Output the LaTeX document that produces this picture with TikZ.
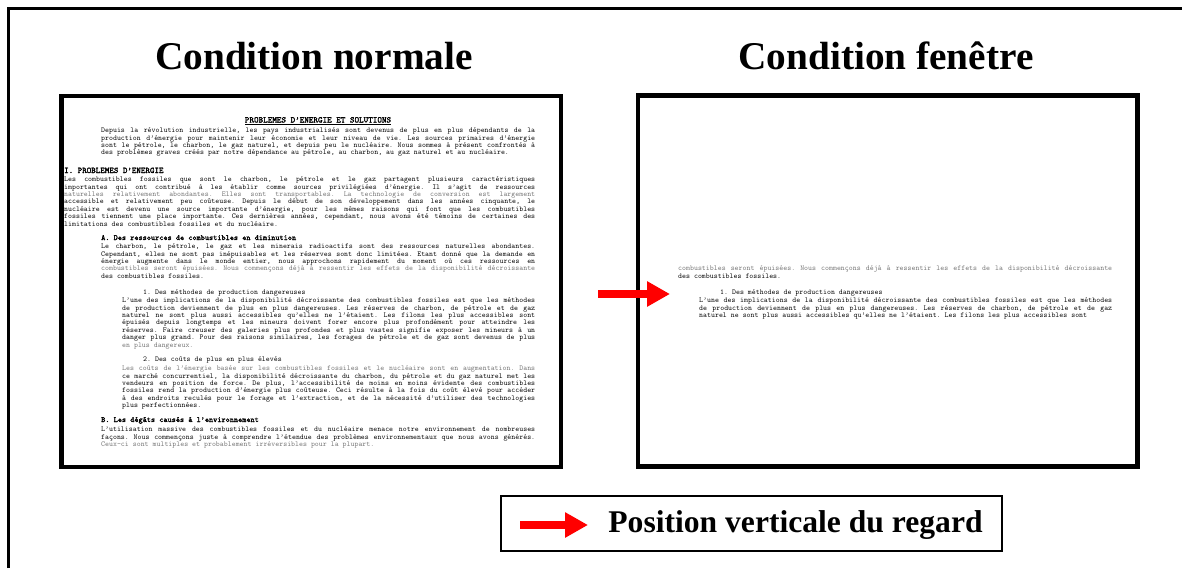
\documentclass[tikz,border=0pt]{standalone}
\usepackage{fontspec}
\setmainfont{Liberation Serif}
\newfontfamily\docfont{lmmono10-regular.otf}
\newfontfamily\docgras{lmmono10-regular.otf}[FakeBold=2]
\usetikzlibrary{arrows.meta}

\newcommand\doctaille{\docfont\fontsize{7.54}{7.4}\selectfont\frenchspacing
  \spaceskip=3.96pt plus 8pt minus 1.3pt\relax
  \tolerance=10000\pretolerance=-1\hyphenpenalty=10000\hfuzz=30pt\parindent=0pt}
\newcommand\lignepale[1]{\textcolor{black!55}{#1}}

\tikzset{
  cadre/.style={draw, line width=4.5pt, minimum width=499.5pt, minimum height=371pt, inner sep=0pt},
  titre/.style={font=\fontsize{39.3}{44}\selectfont\bfseries, anchor=base, inner sep=0pt},
  para/.style={anchor=north west, inner sep=0pt, align=justify, font=\doctaille, text width=#1},
  entete/.style={anchor=base, inner sep=0pt, font=\docgras\fontsize{8.7}{9}\selectfont},
  rubrique/.style={anchor=base west, inner sep=0pt, font=\docgras\fontsize{#1}{9}\selectfont},
  sousrubrique/.style={anchor=base west, inner sep=0pt, font=\doctaille},
  regard/.style={draw=red, line width=8pt, -{Triangle[length=23pt,width=24pt]}},
}

\begin{document}
\begin{tikzpicture}[x=1pt, y=-1pt]
\useasboundingbox (0,0) rectangle (1182,568);
\draw[line width=2.5pt] (8.5,568) -- (8.5,8.5) -- (1182,8.5);

\node[titre] (titreNormale) at (314,69) {Condition normale};
\node[titre] (titreFenetre) at (886,69) {Condition fenêtre};

\node[cadre] (normale) at (311.25,281.5) {};
\node[cadre] (fenetre) at (887.5,281) {};

% condition normale
\node[entete] (entete) at (318,122.5) {\underline{PROBLEMES D’ENERGIE ET SOLUTIONS}};
\node[para=434pt] (intro) at (101,127.8) {Depuis la révolution industrielle, les pays industrialisés sont devenus de plus en plus dépendants de la\linebreak
production d’énergie pour maintenir leur économie et leur niveau de vie. Les sources primaires d’énergie\linebreak
sont le pétrole, le charbon, le gaz naturel, et depuis peu le nucléaire. Nous sommes à présent confrontés à\linebreak
des problèmes graves créés par notre dépendance au pétrole, au charbon, au gaz naturel et au nucléaire.};
\node[rubrique=8.6] (rubI) at (64,173) {I. PROBLEMES D’ENERGIE};
\node[para=471pt] (parI) at (64,176.8) {Les combustibles fossiles que sont le charbon, le pétrole et le gaz partagent plusieurs caractéristiques\linebreak
importantes qui ont contribué à les établir comme sources privilégiées d’énergie. Il s’agit de ressources\linebreak
\lignepale{naturelles relativement abondantes. Elles sont transportables. La technologie de conversion est largement}\linebreak
accessible et relativement peu coûteuse. Depuis le début de son développement dans les années cinquante, le\linebreak
nucléaire est devenu une source importante d’énergie, pour les mêmes raisons qui font que les combustibles\linebreak
fossiles tiennent une place importante. Ces dernières années, cependant, nous avons été témoins de certaines des\linebreak
limitations des combustibles fossiles et du nucléaire.};
\node[rubrique=7.9] (rubA) at (101,240) {A. Des ressources de combustibles en diminution};
\node[para=434pt] (parA) at (101,243.8) {Le charbon, le pétrole, le gaz et les minerais radioactifs sont des ressources naturelles abondantes.\linebreak
Cependant, elles ne sont pas inépuisables et les réserves sont donc limitées. Etant donné que la demande en\linebreak
énergie augmente dans le monde entier, nous approchons rapidement du moment où ces ressources en\linebreak
\lignepale{combustibles seront épuisées. Nous commençons déjà à ressentir les effets de la disponibilité décroissante}\linebreak
des combustibles fossiles.};
\node[sousrubrique] (rubA1) at (143,294) {1. Des méthodes de production dangereuses};
\node[para=413pt] (parA1) at (122,297.8) {L’une des implications de la disponibilité décroissante des combustibles fossiles est que les méthodes\linebreak
de production deviennent de plus en plus dangereuses. Les réserves de charbon, de pétrole et de gaz\linebreak
naturel ne sont plus aussi accessibles qu’elles ne l’étaient. Les filons les plus accessibles sont\linebreak
épuisés depuis longtemps et les mineurs doivent forer encore plus profondément pour atteindre les\linebreak
réserves. Faire creuser des galeries plus profondes et plus vastes signifie exposer les mineurs à un\linebreak
danger plus grand. Pour des raisons similaires, les forages de pétrole et de gaz sont devenus de plus\linebreak
\lignepale{en plus dangereux.}};
\node[sousrubrique] (rubA2) at (143,361) {2. Des coûts de plus en plus élevés};
\node[para=413pt] (parA2) at (122,365.8) {\lignepale{Les coûts de l’énergie basée sur les combustibles fossiles et le nucléaire sont en augmentation. Dans}\linebreak
ce marché concurrentiel, la disponibilité décroissante du charbon, du pétrole et du gaz naturel met les\linebreak
vendeurs en position de force. De plus, l’accessibilité de moins en moins évidente des combustibles\linebreak
fossiles rend la production d’énergie plus coûteuse. Ceci résulte à la fois du coût élevé pour accéder\linebreak
à des endroits reculés pour le forage et l’extraction, et de la nécessité d’utiliser des technologies\linebreak
plus perfectionnées.};
\node[rubrique=7.9] (rubB) at (101,422) {B. Les dégâts causés à l’environnement};
\node[para=434pt] (parB) at (101,426.8) {L’utilisation massive des combustibles fossiles et du nucléaire menace notre environnement de nombreuses\linebreak
façons. Nous commençons juste à comprendre l’étendue des problèmes environnementaux que nous avons générés.\linebreak
\lignepale{Ceux-ci sont multiples et probablement irréversibles pour la plupart.}};

% condition fenetre
\node[para=434pt] (fenA) at (678,266) {\lignepale{combustibles seront épuisées. Nous commençons déjà à ressentir les effets de la disponibilité décroissante}\linebreak
des combustibles fossiles.};
\node[sousrubrique] (fenA1) at (720,294) {1. Des méthodes de production dangereuses};
\node[para=413pt] (fenParA1) at (699,297.8) {L’une des implications de la disponibilité décroissante des combustibles fossiles est que les méthodes\linebreak
de production deviennent de plus en plus dangereuses. Les réserves de charbon, de pétrole et de gaz\linebreak
naturel ne sont plus aussi accessibles qu’elles ne l’étaient. Les filons les plus accessibles sont};

\coordinate (regardDebut) at (598,294);
\coordinate (regardFin) at (670,294);
\draw[regard] (regardDebut) -- (regardFin);

% legende
\node[draw, line width=2pt, minimum width=501pt, minimum height=55pt, inner sep=0pt] (legende) at (751.5,523.5) {};
\node[font=\fontsize{31.6}{36}\selectfont\bfseries, anchor=base, inner sep=0pt] (legendeTexte) at (795.5,532) {Position verticale du regard};
\coordinate (legDebut) at (520,525);
\coordinate (legFin) at (588,525);
\draw[regard] (legDebut) -- (legFin);
\end{tikzpicture}
\end{document}
